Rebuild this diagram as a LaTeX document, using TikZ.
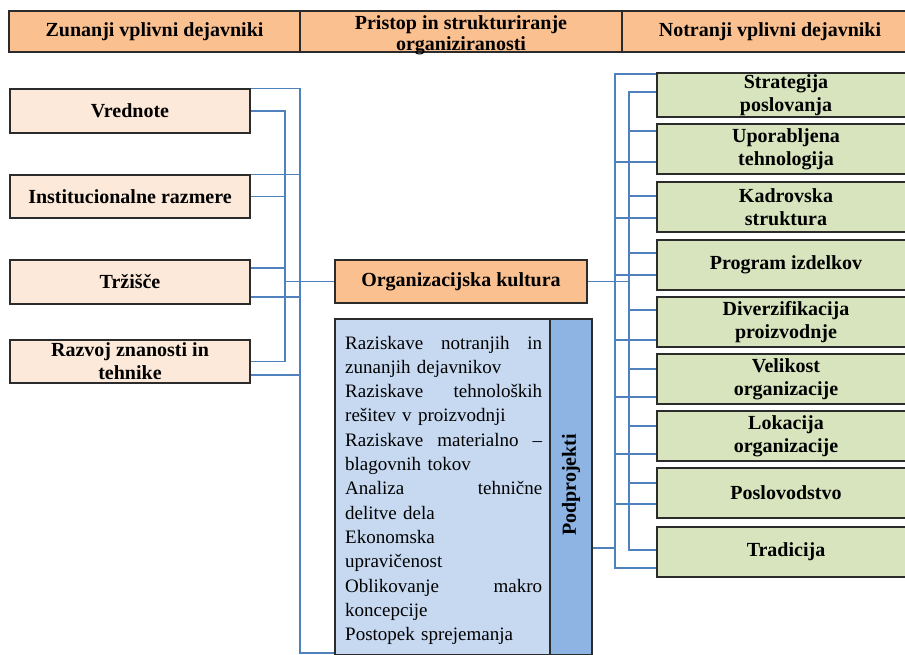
\documentclass[tikz,border=0pt]{standalone}
\usepackage{fontspec}
\setmainfont{Liberation Serif}
\usetikzlibrary{calc}
\definecolor{hdr}{HTML}{FAC090}
\definecolor{lfill}{HTML}{FDE9D9}
\definecolor{gfill}{HTML}{D7E4BD}
\definecolor{sfill}{HTML}{C6D9F1}
\definecolor{stripfill}{HTML}{8EB4E3}
\definecolor{conncol}{HTML}{4F81BD}
\definecolor{edgecol}{HTML}{2B2B2B}
\begin{document}
\begin{tikzpicture}[x=1pt,y=-1pt,
  boxstyle/.style={draw=edgecol, line width=1.5pt, inner sep=0pt, align=center,
    font=\bfseries\fontsize{20}{23}\selectfont},
  hdrbox/.style={boxstyle, fill=hdr, font=\bfseries\fontsize{20}{21}\selectfont, minimum height=41pt},
  leftbox/.style={boxstyle, fill=lfill, minimum width=240pt},
  rightbox/.style={boxstyle, fill=gfill, minimum width=258pt, minimum height=50pt},
  connline/.style={draw=conncol, line width=1.3pt}]
\fill[white] (0,0) rectangle (905,655);
\clip (0,0) rectangle (905,655);
% header
\node[hdrbox, minimum width=291pt] (h1) at (154.5,31.5) {Zunanji vplivni dejavniki};
\node[hdrbox, minimum width=322pt] (h2) at (461,31.5) {};
\node[align=center, inner sep=0pt, font=\bfseries\fontsize{20}{21}\selectfont] (h2t) at (461,35) {Pristop in strukturiranje\\organiziranosti};
\node[hdrbox, minimum width=296pt] (h3) at (770,31.5) {Notranji vplivni dejavniki};
% left boxes
\node[leftbox, minimum height=44pt] (l1) at (130,111) {Vrednote};
\node[leftbox, minimum height=43pt] (l2) at (130,196.5) {Institucionalne razmere};
\node[leftbox, minimum height=44pt] (l3) at (130,282) {Tržišče};
\node[leftbox, minimum height=43pt] (l4) at (130,361.5) {Razvoj znanosti in\\tehnike};
% center
\node[boxstyle, fill=hdr, minimum width=252pt, minimum height=43pt] (ok) at (461,281.5) {Organizacijska kultura};
\node[boxstyle, fill=sfill, minimum width=257pt, minimum height=336pt] (sb) at (463.5,487) {};
\node[boxstyle, fill=stripfill, minimum width=42pt, minimum height=336pt] (st) at (571,487) {};
\node[rotate=90, font=\bfseries\fontsize{20}{23}\selectfont] (pp) at (st.center |- 0,485) {Podprojekti};
\node[anchor=base west, inner sep=0pt, text width=197pt, align=left,
  font=\fontsize{19}{24.33}\selectfont] (tx) at (345,349) {%
Raziskave\hfill notranjih\hfill in\\
zunanjih dejavnikov\\
Raziskave\hfill tehnoloških\\
rešitev v proizvodnji\\
Raziskave\hfill materialno\hfill –\\
blagovnih tokov\\
Analiza\hfill tehnične\\
delitve dela\\
Ekonomska\\
upravičenost\\
Oblikovanje\hfill makro\\
koncepcije\\
Postopek sprejemanja};
% right boxes
\node[rightbox, minimum height=44pt] (r1) at (786,95) {Strategija\\poslovanja};
\node[rightbox] (r2) at (786,149) {Uporabljena\\tehnologija};
\node[rightbox] (r3) at (786,207) {Kadrovska\\struktura};
\node[rightbox] (r4) at (786,265) {Program izdelkov};
\node[rightbox] (r5) at (786,322) {Diverzifikacija\\proizvodnje};
\node[rightbox] (r6) at (786,379) {Velikost\\organizacije};
\node[rightbox] (r7) at (786,436) {Lokacija\\organizacije};
\node[rightbox] (r8) at (786,493) {Poslovodstvo};
\node[rightbox] (r9) at (786,552) {Tradicija};
% bus coordinates
\coordinate (LO) at (300,0);
\coordinate (LI) at (285,0);
\coordinate (RO) at (615,0);
\coordinate (RI) at (629,0);
% left outer bus
\draw[connline] (l1.north east) -- (LO |- l1.north east) -- (LO |- 0,653) -- (sb.west |- 0,653);
\draw[connline] (l2.north east) -- (LO |- l2.north east);
\draw[connline] (l3.east |- 0,297) -- (LO |- 0,297);
\draw[connline] (l4.east |- 0,375) -- (LO |- 0,375);
% left inner bus
\draw[connline] (l1.east) -- (LI |- l1.east) -- (LI |- l4.east) -- (l4.east);
\draw[connline] (l2.east) -- (LI |- l2.east);
\draw[connline] (l3.east |- 0,268) -- (LI |- 0,268);
\draw[connline] (LI |- ok.west) -- (ok.west);
% right outer bus
\draw[connline] (r1.west |- 0,74) -- (RO |- 0,74) -- (RO |- 0,568) -- (r9.west |- 0,568);
\draw[connline] (RO |- 0,162) -- (r2.west |- 0,162);
\draw[connline] (RO |- 0,218) -- (r3.west |- 0,218);
\draw[connline] (RO |- 0,275) -- (r4.west |- 0,275);
\draw[connline] (RO |- 0,340) -- (r5.west |- 0,340);
\draw[connline] (RO |- 0,397) -- (r6.west |- 0,397);
\draw[connline] (RO |- 0,454) -- (r7.west |- 0,454);
\draw[connline] (RO |- 0,504) -- (r8.west |- 0,504);
\draw[connline] (st.east |- 0,548) -- (RO |- 0,548);
% right inner bus
\draw[connline] (r1.west |- 0,92) -- (RI |- 0,92) -- (RI |- 0,550) -- (r9.west |- 0,550);
\draw[connline] (RI |- 0,131) -- (r2.west |- 0,131);
\draw[connline] (RI |- 0,196) -- (r3.west |- 0,196);
\draw[connline] (RI |- 0,253) -- (r4.west |- 0,253);
\draw[connline] (RI |- 0,310) -- (r5.west |- 0,310);
\draw[connline] (RI |- 0,369) -- (r6.west |- 0,369);
\draw[connline] (RI |- 0,426) -- (r7.west |- 0,426);
\draw[connline] (RI |- 0,483) -- (r8.west |- 0,483);
\draw[connline] (ok.east) -- (RI |- ok.east);
\end{tikzpicture}
\end{document}
